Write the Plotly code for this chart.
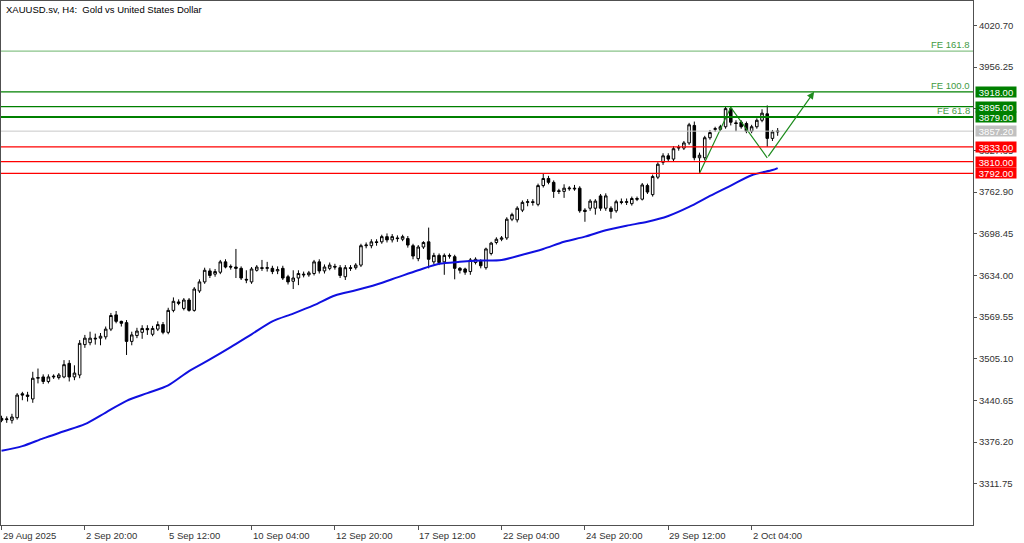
import plotly.graph_objects as go

# ---- data ----
bar_idx = list(range(150))
open_ = [3413,3411,3410,3414,3451,3449,3443,3475,3477,3470,3477,3476,3477,3498,3477,3480,3527,3530,3537,3537,
         3539,3551,3573,3563,3561,3532,3541,3546,3552,3543,3551,3558,3546,3580,3593,3583,3596,3580,3610,3624,
         3641,3636,3639,3655,3648,3647,3645,3628,3624,3642,3646,3645,3645,3641,3645,3632,3625,3630,3636,3635,
         3637,3655,3641,3645,3648,3646,3632,3646,3646,3650,3680,3680,3686,3686,3694,3689,3692,3690,3691,3680,
         3660,3678,3686,3655,3665,3655,3665,3663,3645,3644,3640,3654,3656,3646,3668,3685,3690,3692,3721,3720,
         3735,3747,3748,3744,3773,3784,3778,3765,3764,3768,3769,3769,3735,3738,3738,3757,3738,3738,3734,3748,
         3747,3745,3753,3752,3773,3759,3786,3809,3819,3814,3831,3831,3839,3866,3816,3816,3847,3860,3860,3864,
         3892,3870,3871,3869,3857,3864,3874,3884,3846,3856]
high = [3417,3416,3420,3452,3454,3454,3485,3490,3481,3481,3481,3483,3503,3503,3495,3534,3542,3547,3544,3545,
        3555,3576,3579,3564,3565,3547,3553,3557,3557,3556,3563,3562,3584,3600,3597,3599,3599,3616,3628,3646,
        3645,3644,3658,3659,3651,3675,3648,3642,3647,3650,3658,3655,3649,3648,3649,3635,3642,3642,3640,3641,
        3658,3659,3651,3654,3652,3650,3650,3650,3653,3683,3685,3690,3690,3697,3699,3698,3696,3697,3695,3683,
        3681,3687,3708,3669,3668,3668,3668,3666,3647,3646,3661,3662,3659,3677,3686,3693,3695,3724,3731,3741,
        3750,3752,3752,3776,3791,3788,3781,3768,3775,3772,3774,3772,3738,3752,3752,3760,3761,3741,3751,3753,
        3753,3756,3756,3777,3776,3790,3809,3823,3823,3834,3836,3842,3870,3872,3824,3850,3859,3864,3867,3895,
        3894,3874,3874,3872,3867,3877,3891,3897,3859,3862]
low = [3407,3406,3405,3411,3441,3439,3437,3467,3466,3467,3474,3473,3475,3470,3472,3475,3522,3526,3527,3526,
       3535,3548,3560,3555,3511,3526,3537,3536,3542,3540,3548,3543,3543,3577,3588,3580,3578,3578,3607,3621,
       3630,3632,3636,3645,3643,3630,3627,3622,3621,3640,3641,3640,3636,3636,3627,3620,3613,3619,3631,3632,
       3634,3637,3637,3642,3643,3630,3627,3641,3643,3647,3676,3676,3680,3683,3685,3685,3686,3687,3677,3659,
       3656,3675,3645,3651,3650,3635,3660,3628,3637,3635,3635,3651,3645,3643,3665,3682,3687,3689,3718,3716,
       3732,3741,3742,3741,3770,3775,3754,3760,3754,3765,3765,3731,3717,3734,3728,3734,3734,3722,3731,3744,
       3743,3742,3749,3750,3760,3756,3783,3805,3810,3811,3827,3828,3836,3812,3792,3812,3844,3856,3857,3861,
       3866,3857,3861,3854,3854,3861,3871,3833,3842,3850]
close = [3410,3412,3415,3449,3449,3447,3475,3476,3470,3477,3478,3480,3496,3477,3483,3529,3537,3537,3536,3540,
         3551,3572,3563,3560,3532,3542,3548,3552,3550,3552,3558,3546,3580,3594,3591,3596,3580,3613,3624,3642,
         3634,3640,3655,3647,3647,3645,3630,3627,3644,3647,3645,3646,3640,3643,3630,3624,3630,3637,3635,3638,
         3655,3641,3647,3650,3647,3634,3646,3645,3650,3680,3681,3686,3685,3694,3689,3694,3691,3694,3681,3664,
         3678,3685,3659,3665,3654,3665,3664,3645,3642,3639,3658,3659,3649,3675,3684,3690,3692,3721,3728,3738,
         3747,3748,3747,3773,3784,3778,3764,3764,3769,3769,3768,3734,3733,3749,3749,3738,3757,3733,3748,3747,
         3748,3753,3752,3774,3763,3787,3806,3819,3814,3830,3832,3839,3867,3816,3820,3847,3855,3861,3864,3892,
         3871,3869,3864,3857,3864,3874,3885,3846,3856,3857.2]

ma_idx = [0,4,8,12,16,20,24,28,32,36,40,44,48,52,56,60,64,68,72,76,80,84,88,92,96,100,104,108,112,116,120,
          124,128,132,136,140,144,148,149]
ma_val = [3363,3370,3382,3393,3404,3422,3440,3452,3464,3486,3504,3523,3543,3563,3575,3588,3603,3611,3620,3631,
          3642,3652,3655,3657,3658,3666,3675,3686,3694,3704,3711,3717,3726,3740,3757,3773,3789,3797,3800]

time_idx = [0,16,32,48,64,80,96,112,128,144]
time_txt = ["29 Aug 2025","2 Sep 20:00","5 Sep 12:00","10 Sep 04:00","12 Sep 20:00","17 Sep 12:00",
            "22 Sep 04:00","24 Sep 20:00","29 Sep 12:00","2 Oct 04:00"]

price_ticks = [3311.75,3376.20,3440.65,3505.10,3569.55,3634.00,3698.45,3762.90,3827.35,3891.80,3956.25,4020.70]

green_levels = [3918.00, 3895.00, 3879.00]
red_levels = [3833.00, 3810.00, 3792.00]
bid_level = 3857.20

fe_names = ["FE 161.8", "FE 100.0", "FE 61.8"]
fe_values = [3981.0, 3918.0, 3879.8]

zz_idx = [134, 140, 147, 156]
zz_val = [3792, 3894, 3816, 3918]

title = "XAUUSD.sv, H4:\u00a0 Gold vs United States Dollar"

FONT = "Liberation Sans"
GREEN = "#008000"
RED = "#ff0000"

fig = go.Figure()
fig.add_trace(go.Candlestick(
    x=bar_idx, open=open_, high=high, low=low, close=close,
    increasing=dict(line=dict(color="black", width=1), fillcolor="white"),
    decreasing=dict(line=dict(color="black", width=1), fillcolor="black"),
    whiskerwidth=0, hoverinfo="skip", showlegend=False))
fig.add_trace(go.Scatter(x=ma_idx, y=ma_val, mode="lines",
                         line=dict(color="#1010e0", width=2, shape="spline", smoothing=0.8),
                         hoverinfo="skip", showlegend=False))
fig.add_trace(go.Scatter(x=zz_idx[:3], y=zz_val[:3], mode="lines",
                         line=dict(color="#1e8c1e", width=1.2), hoverinfo="skip", showlegend=False))

shapes = []
def hline(v, color, w):
    shapes.append(dict(type="line", xref="paper", x0=0, x1=1, yref="y", y0=v, y1=v,
                       line=dict(color=color, width=w), layer="above"))

hline(bid_level, "#c8c8c8", 1)
hline(fe_values[0], "#6cb46c", 1)
for v in green_levels:
    hline(v, GREEN, 2 if v == 3879.00 else 1.3)
for v in red_levels:
    hline(v, RED, 1.3)

ann = []
ann.append(dict(text=title, xref="paper", yref="paper", x=0, y=1, xshift=3, yshift=-1,
                xanchor="left", yanchor="top", showarrow=False,
                font=dict(family=FONT, size=9.5, color="black")))
for i, t in zip(time_idx, time_txt):
    ann.append(dict(text=t, xref="x", yref="paper", x=i, y=0, xshift=-1, yshift=-3,
                    xanchor="left", yanchor="top", showarrow=False,
                    font=dict(family=FONT, size=9.5, color="#333333")))
for n, v in zip(fe_names, fe_values):
    ann.append(dict(text=n, xref="paper", yref="y", x=1, y=v, xshift=-1, yshift=-1,
                    xanchor="right", yanchor="bottom", showarrow=False,
                    font=dict(family=FONT, size=9.5, color="#3f9a3f")))
def label(v, bg, txt):
    ann.append(dict(text=txt, xref="paper", yref="y", x=1, y=v, xshift=2,
                    xanchor="left", yanchor="middle", showarrow=False, bgcolor=bg,
                    borderpad=0, width=40, height=10, align="center", valign="middle",
                    font=dict(family=FONT, size=9.5, color="white")))
for v in green_levels:
    label(v, GREEN, f"{v:.2f}")
label(bid_level, "#c0c0c0", f"{bid_level:.2f}")
for v in red_levels:
    label(v, RED, f"{v:.2f}")
# arrow of the zigzag projection
ann.append(dict(xref="x", yref="y", x=zz_idx[3], y=zz_val[3], axref="x", ayref="y",
                ax=zz_idx[2], ay=zz_val[2], showarrow=True, arrowhead=2, arrowsize=1.2,
                arrowwidth=1.2, arrowcolor="#1e8c1e", text=""))

fig.update_layout(
    width=1024, height=543,
    margin=dict(l=1, r=51, t=1, b=18, autoexpand=False),
    paper_bgcolor="white", plot_bgcolor="white",
    showlegend=False, hovermode=False,
    shapes=shapes, annotations=ann,
    xaxis=dict(range=[-0.1, 186.5], rangeslider=dict(visible=False), showgrid=False, zeroline=False,
               showline=True, mirror=True, linecolor="#505050", linewidth=1,
               tickvals=time_idx, ticks="outside", ticklen=4, tickcolor="#505050",
               showticklabels=False),
    yaxis=dict(range=[3248.0, 4058.5], side="right", showgrid=False, zeroline=False,
               showline=True, mirror=True, linecolor="#505050", linewidth=1,
               tickvals=price_ticks, ticktext=[f"{p:.2f}" for p in price_ticks],
               ticks="outside", ticklen=3, tickcolor="#505050",
               tickfont=dict(family=FONT, size=9.5, color="#333333")),
)

fig.write_html("out.html", config={"displayModeBar": False},
               post_script="document.body.style.margin='0';document.body.style.overflow='hidden';")
